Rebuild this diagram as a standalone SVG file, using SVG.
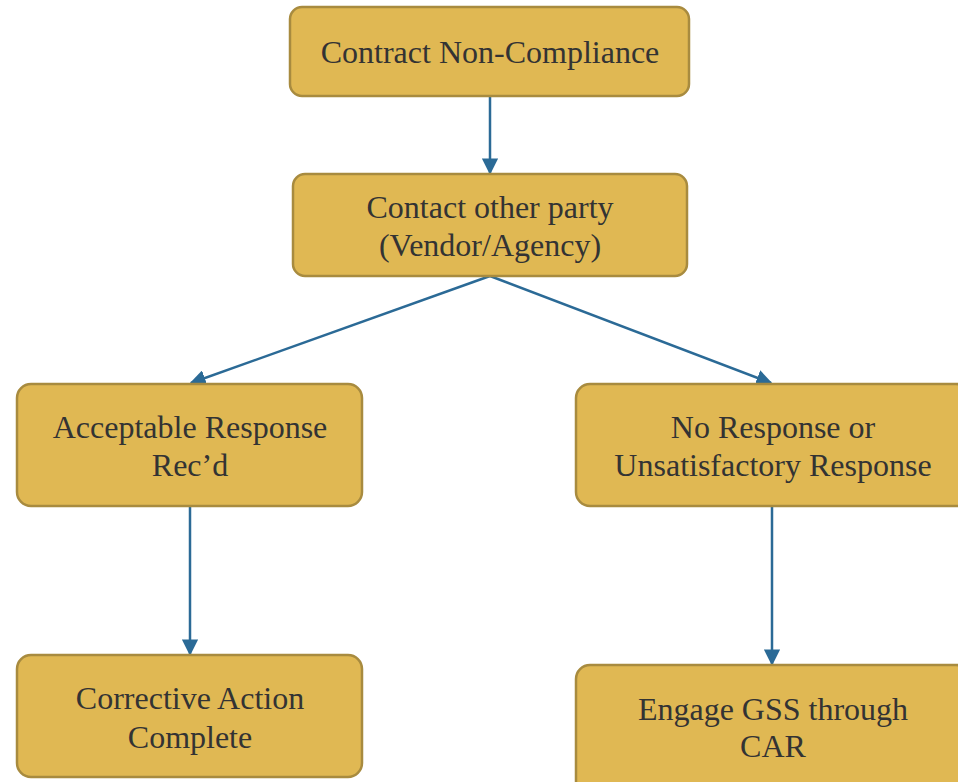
<svg xmlns="http://www.w3.org/2000/svg" width="958" height="782" viewBox="0 0 958 782">
<defs>
<style>
.box{fill:#E0B853;stroke:#A88B3F;stroke-width:2.5}
.t{font-family:"Liberation Serif","Times New Roman",serif;font-size:32px;fill:#333333;text-anchor:middle}
.c{stroke:#2B6A96;stroke-width:2.5;fill:none;marker-end:url(#ah)}
</style>
<marker id="ah" viewBox="0 0 10 10" refX="9" refY="5" markerWidth="6.5" markerHeight="6.5" orient="auto" markerUnits="strokeWidth">
<path d="M0,0 L10,5 L0,10 z" fill="#2B6A96"/>
</marker>
</defs>
<rect width="958" height="782" fill="#ffffff"/>
<g id="connectors">
<line class="c" x1="490" y1="97" x2="490" y2="173"/>
<line class="c" x1="490" y1="276" x2="191" y2="383"/>
<line class="c" x1="490" y1="276" x2="771" y2="383"/>
<line class="c" x1="190" y1="507" x2="190" y2="654"/>
<line class="c" x1="772" y1="507" x2="772" y2="664"/>
</g>
<g id="n1">
<rect class="box" x="290" y="7" width="399" height="89" rx="12"/>
<text class="t" x="490" y="63">Contract Non-Compliance</text>
</g>
<g id="n2">
<rect class="box" x="293" y="174" width="394" height="102" rx="12"/>
<text class="t" x="490" y="218">Contact other party</text>
<text class="t" x="490" y="256">(Vendor/Agency)</text>
</g>
<g id="n3">
<rect class="box" x="17" y="384" width="345" height="122" rx="14"/>
<text class="t" x="190" y="438">Acceptable Response</text>
<text class="t" x="190" y="476">Rec’d</text>
</g>
<g id="n4">
<rect class="box" x="576" y="384" width="394" height="122" rx="14"/>
<text class="t" x="773" y="438">No Response or</text>
<text class="t" x="773" y="476">Unsatisfactory Response</text>
</g>
<g id="n5">
<rect class="box" x="17" y="655" width="345" height="122" rx="14"/>
<text class="t" x="190" y="709">Corrective Action</text>
<text class="t" x="190" y="748">Complete</text>
</g>
<g id="n6">
<rect class="box" x="576" y="665" width="394" height="130" rx="14"/>
<text class="t" x="773" y="720">Engage GSS through</text>
<text class="t" x="773" y="757">CAR</text>
</g>
</svg>
